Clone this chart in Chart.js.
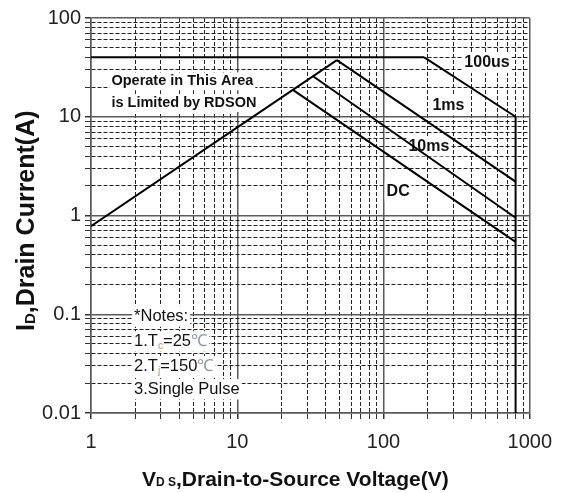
<!DOCTYPE html>
<html>
<head>
<meta charset="utf-8">
<script src="https://cdn.jsdelivr.net/npm/chart.js@4.4.1/dist/chart.umd.min.js"></script>
<style>
  html, body { margin: 0; padding: 0; background: #fff; }
</style>
</head>
<body>
<canvas id="soa" width="563" height="493"></canvas>
<script>
// SOA curves, V (volts) vs I (amps)
var rdsonV = [1, 48];
var rdsonI = [0.78, 37.5];
var limitV = [1, 190];
var limitI = [40, 40];
var us100V = [190, 800];
var us100I = [40, 10];
var ms1V = [48, 800];
var ms1I = [37.5, 2.2];
var ms10V = [33, 800];
var ms10I = [25.7, 0.95];
var dcV = [24, 800];
var dcI = [18.7, 0.54];
var vmaxV = [800, 800];
var vmaxI = [10, 0.01];

var xTickLabels = ['1', '10', '100', '1000'];
var yTickLabels = ['0.01', '0.1', '1', '10', '100'];

var FONT = "'Liberation Sans', Arial, sans-serif";

function pts(xs, ys) {
    return xs.map(function (x, i) { return {x: x, y: ys[i]}; });
}

function isMajor(v) {
    var l = Math.log10(v);
    return Math.abs(l - Math.round(l)) < 1e-6;
}

function logTicks(lo, hi) {
    var out = [];
    for (var e = lo; e < hi; e++) {
        for (var s = 1; s <= 9; s++) out.push({value: +(s * Math.pow(10, e)).toPrecision(6)});
    }
    out.push({value: Math.pow(10, hi)});
    return out;
}

function tickLabel(list) {
    return function (value) {
        if (!isMajor(value)) return '';
        for (var i = 0; i < list.length; i++) {
            if (Math.abs(parseFloat(list[i]) - value) < 1e-9) return list[i];
        }
        return '';
    };
}

function line(label, xs, ys) {
    return {
        label: label,
        data: pts(xs, ys),
        showLine: true,
        borderColor: '#000',
        borderWidth: 2,
        pointRadius: 0,
        fill: false
    };
}

// text drawn in data coords, with white box behind
var boxLabels = [
    {text: 'Operate in This Area', x: 1.38, y: 22.8, bold: true, size: 14.5},
    {text: 'is Limited by RDSON', x: 1.38, y: 13.8, bold: true, size: 14.5},
    {text: '100us', x: 357, y: 35, bold: true, size: 16},
    {text: '1ms', x: 216, y: 13, bold: true, size: 16},
    {text: '10ms', x: 148, y: 5, bold: true, size: 16},
    {text: 'DC', x: 105, y: 1.76, bold: true, size: 16}
];

var notes = [
    [['*Notes:', 'n']],
    [['1.T', 'n'], ['c', 's', '#c8903c'], ['=25', 'n'], ['\u2103', 'n', '#8a9aa8']],
    [['2.T', 'n'], ['j', 's', '#c8903c'], ['=150', 'n'], ['\u2103', 'n', '#8a9aa8']],
    [['3.Single Pulse', 'n']]
];
var notesY = [0.095, 0.053, 0.0298, 0.0174];
var notesX = 1.97;

function drawRuns(ctx, runs, x, y, size, bold) {
    var w = 0;
    runs.forEach(function (r) {
        var sz = r[1] === 's' ? size * 0.62 : size;
        ctx.font = (bold ? 'bold ' : '') + sz + 'px ' + FONT;
        w += ctx.measureText(r[0]).width;
    });
    ctx.fillStyle = '#fff';
    ctx.fillRect(x - 2, y - size * 0.62, w + 4, size * 1.24);
    var cx = x;
    runs.forEach(function (r) {
        var sub = r[1] === 's';
        var sz = sub ? size * 0.62 : size;
        ctx.font = (bold ? 'bold ' : '') + sz + 'px ' + FONT;
        ctx.fillStyle = r[2] || '#111';
        ctx.fillText(r[0], cx, sub ? y + size * 0.28 : y);
        cx += ctx.measureText(r[0]).width;
    });
}

var annotate = {
    id: 'annotate',
    beforeDatasetsDraw: function (chart) {
        var ctx = chart.ctx;
        var xs = chart.scales.x, ys = chart.scales.y;
        ctx.save();
        ctx.textBaseline = 'middle';
        ctx.textAlign = 'left';
        boxLabels.forEach(function (b) {
            drawRuns(ctx, [[b.text, 'n']], xs.getPixelForValue(b.x), ys.getPixelForValue(b.y), b.size, b.bold);
        });
        notes.forEach(function (runs, i) {
            drawRuns(ctx, runs, xs.getPixelForValue(notesX), ys.getPixelForValue(notesY[i]), 16.5, false);
        });
        ctx.restore();
    },
    afterDraw: function (chart) {
        var ctx = chart.ctx;
        ctx.save();
        ctx.fillStyle = '#111';
        ctx.textBaseline = 'alphabetic';
        ctx.textAlign = 'left';
        // y title, rotated
        ctx.translate(34, 331);
        ctx.rotate(-Math.PI / 2);
        ctx.font = 'bold 25px ' + FONT;
        ctx.fillText('I', 0, 0);
        var cx = ctx.measureText('I').width;
        ctx.font = 'bold 15px ' + FONT;
        ctx.fillText('D', cx, 1);
        cx += ctx.measureText('D').width;
        ctx.font = 'bold 25px ' + FONT;
        ctx.fillText(',Drain Current(A)', cx, 0);
        ctx.restore();

        ctx.save();
        ctx.fillStyle = '#111';
        ctx.textBaseline = 'alphabetic';
        ctx.textAlign = 'left';
        var x0 = 142, y0 = 486;
        ctx.font = 'bold 21px ' + FONT;
        ctx.fillText('V', x0, y0);
        x0 += ctx.measureText('V').width;
        ctx.font = 'bold 12px ' + FONT;
        ctx.fillText('D S', x0, y0);
        x0 += ctx.measureText('D S').width;
        ctx.font = 'bold 21px ' + FONT;
        ctx.fillText(',Drain-to-Source Voltage(V)', x0, y0);
        ctx.restore();
    }
};

function gridOpts() {
    return {
        color: function (c) { return c.tick && isMajor(c.tick.value) ? '#5a5a5a' : '#222'; },
        lineWidth: function (c) { return c.tick && isMajor(c.tick.value) ? 1.5 : 1; },
        tickColor: '#333',
        tickLength: 6,
        drawTicks: true
    };
}

function borderOpts() {
    return {
        color: '#5a5a5a',
        width: 1.5,
        dash: function (c) { return c.tick && !isMajor(c.tick.value) ? [4, 2] : []; }
    };
}

new Chart(document.getElementById('soa'), {
    type: 'scatter',
    data: {
        datasets: [
            line('RDSON', rdsonV, rdsonI),
            line('Limit', limitV, limitI),
            line('100us', us100V, us100I),
            line('1ms', ms1V, ms1I),
            line('10ms', ms10V, ms10I),
            line('DC', dcV, dcI),
            line('Vmax', vmaxV, vmaxI)
        ]
    },
    options: {
        responsive: false,
        animation: false,
        layout: { padding: { top: 18, right: 32, left: 0, bottom: 0 } },
        plugins: {
            legend: { display: false },
            tooltip: { enabled: false }
        },
        scales: {
            x: {
                type: 'logarithmic',
                min: 1,
                max: 1000,
                afterBuildTicks: function (s) { s.ticks = logTicks(0, 3); },
                afterFit: function (s) { s.height = 80; },
                grid: gridOpts(),
                border: borderOpts(),
                ticks: {
                    autoSkip: false,
                    maxRotation: 0,
                    padding: 11,
                    color: '#222',
                    font: { family: FONT, size: 20 },
                    callback: tickLabel(xTickLabels)
                }
            },
            y: {
                type: 'logarithmic',
                min: 0.01,
                max: 100,
                afterBuildTicks: function (s) { s.ticks = logTicks(-2, 2); },
                afterFit: function (s) { s.width = 91; },
                grid: gridOpts(),
                border: borderOpts(),
                ticks: {
                    autoSkip: false,
                    padding: 4,
                    color: '#222',
                    font: { family: FONT, size: 20 },
                    callback: tickLabel(yTickLabels)
                }
            }
        }
    },
    plugins: [annotate]
});
</script>
</body>
</html>
